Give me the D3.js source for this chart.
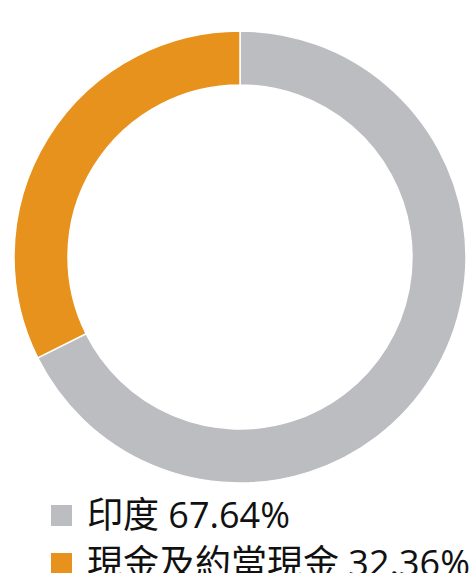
<!DOCTYPE html>
<html>
<head>
<meta charset="utf-8">
<script src="https://cdn.jsdelivr.net/npm/d3@7"></script>
<style>
  body { margin: 0; background: #fff; overflow: hidden; }
  svg { display: block; }
</style>
</head>
<body>
<div id="chart"></div>
<script>
const labels = ['印度', '現金及約當現金']
const values = [67.64, 32.36]
const colors = ['#BCBDC0', '#E8921E']

const width = 471
const height = 573
const cx = 240
const cy = 257
const outerR = 226
const innerR = 172

const svg = d3.select('#chart').append('svg')
    .attr('width', width)
    .attr('height', height)

const pie = d3.pie().sort(null).value(d => d)
const arc = d3.arc().innerRadius(innerR).outerRadius(outerR)

svg.append('g')
    .attr('transform', `translate(${cx},${cy})`)
    .selectAll('path')
    .data(pie(values))
    .join('path')
    .attr('d', arc)
    .attr('fill', (d, i) => colors[i])
    .attr('stroke', '#fff')
    .attr('stroke-width', 1.5)

// legend
const legendX = 51
const legendY = 505
const rowGap = 48
const legend = svg.append('g')
    .selectAll('g')
    .data(labels)
    .join('g')
    .attr('transform', (d, i) => `translate(${legendX},${legendY + i * rowGap})`)

legend.append('rect')
    .attr('width', 21)
    .attr('height', 21)
    .attr('fill', (d, i) => colors[i])

legend.append('text')
    .attr('x', 36)
    .attr('y', 23)
    .attr('font-family', '"Open Sans", "Noto Sans CJK TC", sans-serif')
    .attr('font-size', 36)
    .attr('fill', '#111')
    .text((d, i) => `${d} ${values[i].toFixed(2)}%`)
</script>
</body>
</html>
